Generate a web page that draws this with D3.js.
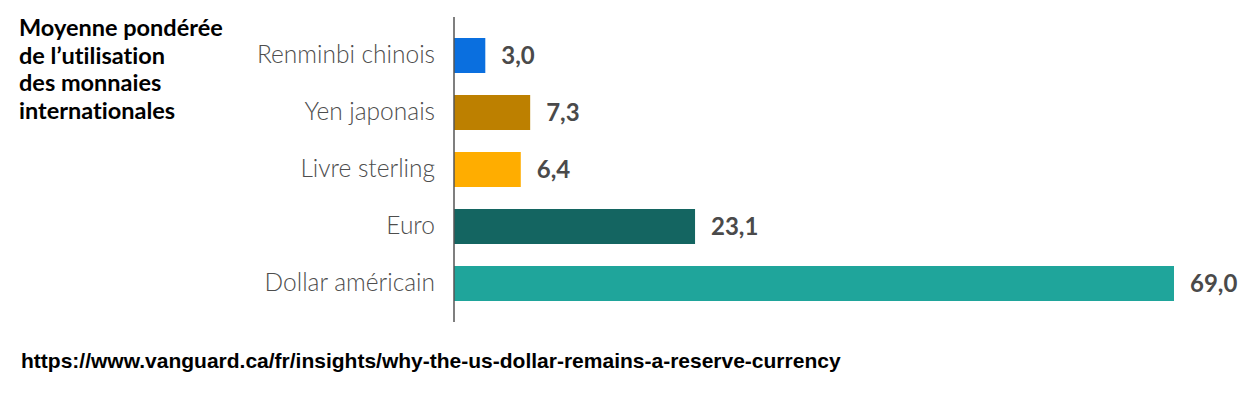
<!DOCTYPE html>
<html>
<head>
<meta charset="utf-8">
<script src="https://cdn.jsdelivr.net/npm/d3@7"></script>
<style>
    html, body { margin: 0; padding: 0; background: #fff; }
    svg { display: block; }
    text { font-variant-ligatures: none; }
</style>
</head>
<body>
<div id="chart"></div>
<script>
// Data
const categories = ['Renminbi chinois', 'Yen japonais', 'Livre sterling', 'Euro', 'Dollar américain'];
const values = [3.0, 7.3, 6.4, 23.1, 69.0];
const barColors = ['#0a6fdf', '#bd8000', '#ffad00', '#146561', '#1fa59b'];
const titleLines = ['Moyenne pondérée', 'de l\u2019utilisation', 'des monnaies', 'internationales'];
const sourceText = 'https://www.vanguard.ca/fr/insights/why-the-us-dollar-remains-a-reserve-currency';

(function () {
    const width = 1253;
    const height = 399;

    const svg = d3.select('#chart')
        .append('svg')
        .attr('width', width)
        .attr('height', height);

    const x = d3.scaleLinear()
        .domain([0, 69])
        .range([454, 1174]);

    const y = d3.scaleBand()
        .domain(categories)
        .range([27, 312])
        .paddingInner(0.386)
        .paddingOuter(0.193);

    // bars
    svg.append('g')
        .selectAll('rect')
        .data(values)
        .join('rect')
        .attr('x', x(0))
        .attr('y', (d, i) => y(categories[i]))
        .attr('width', (d) => x(d) - x(0))
        .attr('height', y.bandwidth())
        .attr('fill', (d, i) => barColors[i]);

    // category axis (no ticks, just labels and a vertical line)
    const axis = svg.append('g')
        .attr('transform', `translate(${x(0)},0)`)
        .call(d3.axisLeft(y).tickSize(0).tickPadding(19));
    axis.select('.domain').remove();
    axis.selectAll('text')
        .attr('fill', '#4d4d4d')
        .attr('font-family', 'Lato, sans-serif')
        .attr('font-size', '24.5px')
        .attr('font-weight', 300);

    svg.append('line')
        .attr('x1', x(0))
        .attr('x2', x(0))
        .attr('y1', 17)
        .attr('y2', 322)
        .attr('stroke', '#555')
        .attr('stroke-width', 1.5);

    // value labels
    svg.append('g')
        .selectAll('text')
        .data(values)
        .join('text')
        .attr('x', (d) => x(d) + 16)
        .attr('y', (d, i) => y(categories[i]) + y.bandwidth() / 2)
        .attr('dy', '0.35em')
        .attr('fill', '#4a4a4a')
        .attr('font-family', 'Lato, sans-serif')
        .attr('font-size', '24px')
        .attr('font-weight', 700)
        .text((d) => d.toFixed(1).replace('.', ','));

    // title block, top left
    svg.append('text')
        .attr('x', 19)
        .attr('y', 36)
        .attr('fill', '#000')
        .attr('font-family', 'Lato, sans-serif')
        .attr('font-size', '23.5px')
        .attr('font-weight', 700)
        .selectAll('tspan')
        .data(titleLines)
        .join('tspan')
        .attr('x', 19)
        .attr('dy', (d, i) => (i === 0 ? 0 : 27.5))
        .text((d) => d);

    // source line
    svg.append('text')
        .attr('x', 21)
        .attr('y', 368)
        .attr('fill', '#000')
        .attr('font-family', '"Liberation Sans", Arial, sans-serif')
        .attr('font-size', '21px')
        .attr('font-weight', 700)
        .text(sourceText);
})();
</script>
</body>
</html>
